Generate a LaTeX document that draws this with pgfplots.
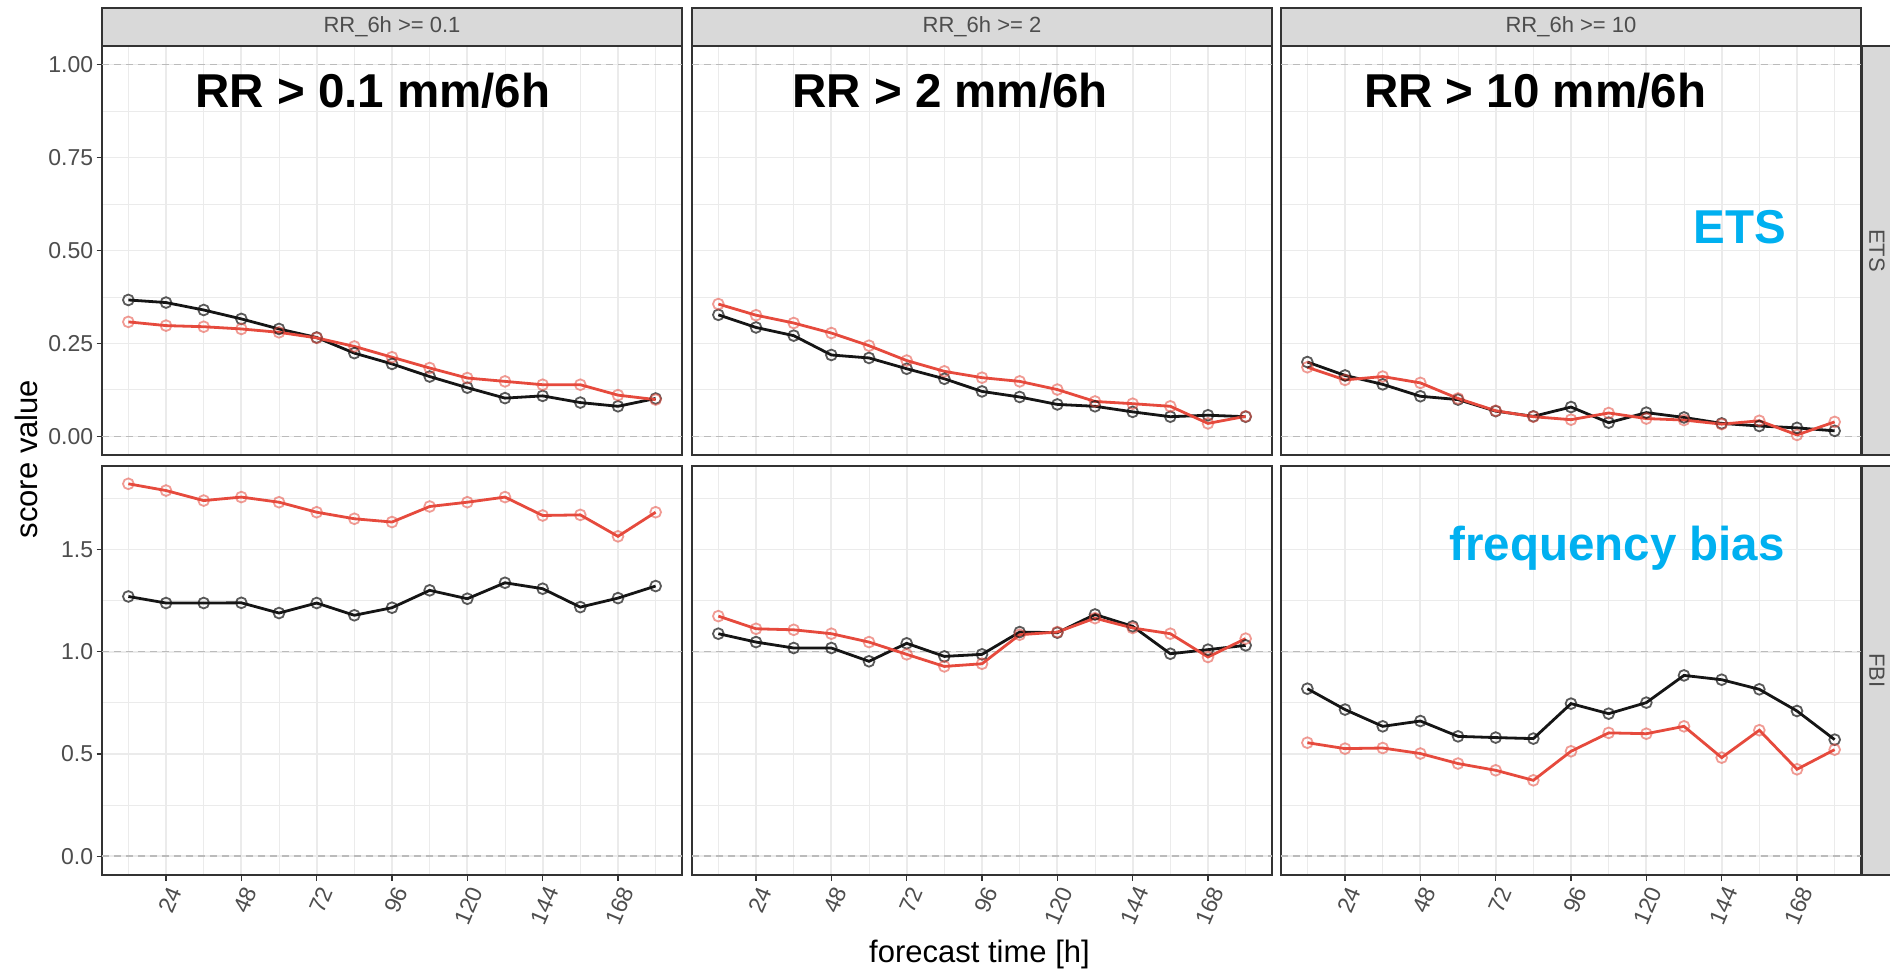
\documentclass[border=0pt]{standalone}
\usepackage{pgfplots}
\usepackage{pgfplotstable}
\pgfplotsset{compat=1.18}
\usepackage{fontspec}
\setmainfont{Liberation Sans}
\definecolor{gridc}{HTML}{EBEBEB}
\definecolor{framec}{HTML}{333333}
\definecolor{ticklab}{HTML}{4D4D4D}
\definecolor{stripfill}{HTML}{D9D9D9}
\definecolor{serk}{HTML}{151515}
\definecolor{serr}{HTML}{E64A3D}
\definecolor{annblue}{HTML}{00B0F0}
\definecolor{hlinec}{HTML}{BBBBBB}

\pgfplotstableread{
t k r
12 0.367 0.308
24 0.360 0.298
36 0.340 0.295
48 0.316 0.289
60 0.289 0.280
72 0.266 0.265
84 0.224 0.242
96 0.195 0.213
108 0.161 0.184
120 0.131 0.157
132 0.103 0.148
144 0.109 0.139
156 0.091 0.139
168 0.081 0.111
180 0.102 0.099
}\Ea
\pgfplotstableread{
t k r
12 0.327 0.356
24 0.293 0.326
36 0.271 0.305
48 0.219 0.278
60 0.211 0.244
72 0.182 0.204
84 0.155 0.175
96 0.121 0.158
108 0.106 0.148
120 0.086 0.126
132 0.081 0.094
144 0.066 0.088
156 0.053 0.081
168 0.057 0.035
180 0.053 0.054
}\Eb
\pgfplotstableread{
t k r
12 0.200 0.186
24 0.164 0.152
36 0.140 0.161
48 0.108 0.144
60 0.099 0.102
72 0.068 0.069
84 0.054 0.053
96 0.079 0.045
108 0.037 0.063
120 0.064 0.048
132 0.051 0.044
144 0.035 0.033
156 0.028 0.042
168 0.023 0.004
180 0.015 0.039
}\Ec
\pgfplotstableread{
t k r
12 1.270 1.821
24 1.238 1.788
36 1.238 1.739
48 1.239 1.756
60 1.189 1.731
72 1.238 1.682
84 1.178 1.650
96 1.215 1.634
108 1.300 1.710
120 1.259 1.731
132 1.337 1.756
144 1.308 1.666
156 1.218 1.669
168 1.262 1.564
180 1.321 1.682
}\Fa
\pgfplotstableread{
t k r
12 1.088 1.174
24 1.047 1.112
36 1.018 1.107
48 1.018 1.088
60 0.953 1.047
72 1.041 0.987
84 0.977 0.928
96 0.987 0.941
108 1.096 1.083
120 1.093 1.096
132 1.182 1.164
144 1.124 1.116
156 0.990 1.088
168 1.010 0.974
180 1.031 1.064
}\Fb
\pgfplotstableread{
t k r
12 0.819 0.555
24 0.717 0.526
36 0.635 0.529
48 0.661 0.502
60 0.586 0.453
72 0.580 0.420
84 0.575 0.371
96 0.746 0.513
108 0.697 0.603
120 0.751 0.599
132 0.884 0.635
144 0.863 0.482
156 0.816 0.616
168 0.710 0.425
180 0.570 0.521
}\Fc

\tikzset{hl/.style={draw=hlinec, line width=0.7pt, dash pattern=on 3.5pt off 2.5pt}}

\pgfplotsset{
  panel/.style={
    scale only axis, width=290pt, height=204.5pt,
    anchor=north west,
    xmin=3.6, xmax=188.4,
    clip=false,
    axis line style={draw=framec, line width=0.9pt},
    xtick={24,48,72,96,120,144,168},
    minor xtick={12,36,60,84,108,132,156,180},
    xmajorgrids, xminorgrids, ymajorgrids, yminorgrids,
    major grid style={draw=gridc, line width=0.9pt},
    minor grid style={draw=gridc, line width=0.45pt},
    tick style={draw=framec, line width=0.6pt},
    tick align=outside,
    major tick length=2.75pt, minor tick length=0pt,
    tick label style={font=\fontsize{11.5}{13}\selectfont, text=ticklab},
    /pgf/number format/assume math mode=true,
    xticklabel style={rotate=67, anchor=north east, inner sep=1.5pt},
    yticklabel style={inner sep=1.5pt},
    xtick pos=left, ytick pos=left,
  },
  etsrow/.style={ymin=-0.05, ymax=1.05, ytick={0,0.25,0.5,0.75,1},
    minor ytick={0.125,0.375,0.625,0.875},
    yticklabel style={/pgf/number format/.cd, fixed, fixed zerofill, precision=2}},
  fbirow/.style={ymin=-0.092, ymax=1.908, ytick={0,0.5,1,1.5},
    minor ytick={0.25,0.75,1.25,1.75},
    yticklabel style={/pgf/number format/.cd, fixed, fixed zerofill, precision=1}},
  noxt/.style={xticklabels={}, xtick style={draw=none}},
  noyt/.style={yticklabels={}, ytick style={draw=none}},
  serk/.style={draw=serk, line width=1.4pt, mark=o, mark size=2.7pt,
    mark options={solid, line width=0.9pt, draw=serk, draw opacity=0.7}},
  serr/.style={draw=serr, line width=1.4pt, mark=o, mark size=2.7pt,
    mark options={solid, line width=0.9pt, draw=serr, draw opacity=0.55}},
}

\newcommand{\bigtxt}{\fontsize{23.75}{28}\selectfont\bfseries}

\begin{document}
\begin{tikzpicture}
\useasboundingbox (0,0) rectangle (945pt,-484.5pt);
\fill[white] (0,0) rectangle (945pt,-484.5pt);

% ---- top row (ETS)
\begin{axis}[panel, etsrow, noxt, at={(51pt,-23pt)}]
\draw[hl] (axis cs:3.6,0) -- (axis cs:188.4,0);
\draw[hl] (axis cs:3.6,1) -- (axis cs:188.4,1);
\addplot[serk] table[x=t,y=k]{\Ea};
\addplot[serr] table[x=t,y=r]{\Ea};
\end{axis}
\begin{axis}[panel, etsrow, noxt, noyt, at={(346pt,-23pt)}]
\draw[hl] (axis cs:3.6,0) -- (axis cs:188.4,0);
\draw[hl] (axis cs:3.6,1) -- (axis cs:188.4,1);
\addplot[serk] table[x=t,y=k]{\Eb};
\addplot[serr] table[x=t,y=r]{\Eb};
\end{axis}
\begin{axis}[panel, etsrow, noxt, noyt, at={(640.5pt,-23pt)}]
\draw[hl] (axis cs:3.6,0) -- (axis cs:188.4,0);
\draw[hl] (axis cs:3.6,1) -- (axis cs:188.4,1);
\addplot[serk] table[x=t,y=k]{\Ec};
\addplot[serr] table[x=t,y=r]{\Ec};
\end{axis}

% ---- bottom row (FBI)
\begin{axis}[panel, fbirow, at={(51pt,-233pt)}]
\draw[hl] (axis cs:3.6,0) -- (axis cs:188.4,0);
\draw[hl] (axis cs:3.6,1) -- (axis cs:188.4,1);
\addplot[serk] table[x=t,y=k]{\Fa};
\addplot[serr] table[x=t,y=r]{\Fa};
\end{axis}
\begin{axis}[panel, fbirow, noyt, at={(346pt,-233pt)}]
\draw[hl] (axis cs:3.6,0) -- (axis cs:188.4,0);
\draw[hl] (axis cs:3.6,1) -- (axis cs:188.4,1);
\addplot[serk] table[x=t,y=k]{\Fb};
\addplot[serr] table[x=t,y=r]{\Fb};
\end{axis}
\begin{axis}[panel, fbirow, noyt, at={(640.5pt,-233pt)}]
\draw[hl] (axis cs:3.6,0) -- (axis cs:188.4,0);
\draw[hl] (axis cs:3.6,1) -- (axis cs:188.4,1);
\addplot[serk] table[x=t,y=k]{\Fc};
\addplot[serr] table[x=t,y=r]{\Fc};
\end{axis}

% ---- strips
\foreach \x/\lab in {51pt/{RR\_6h >= 0.1}, 346pt/{RR\_6h >= 2}, 640.5pt/{RR\_6h >= 10}}{
  \draw[fill=stripfill, draw=framec, line width=0.9pt] (\x,-4pt) rectangle ++(290pt,-19pt);
  \node[font=\fontsize{11}{13}\selectfont, text=ticklab] at ([xshift=145pt]\x,-13.4pt) {\lab};
}
\draw[fill=stripfill, draw=framec, line width=0.9pt] (931pt,-23pt) rectangle (950pt,-227.5pt);
\draw[fill=stripfill, draw=framec, line width=0.9pt] (931pt,-233pt) rectangle (950pt,-437.5pt);
\node[font=\fontsize{11}{13}\selectfont, text=ticklab, rotate=-90] at (938.5pt,-125.25pt) {ETS};
\node[font=\fontsize{11}{13}\selectfont, text=ticklab, rotate=-90] at (938.5pt,-335.25pt) {FBI};

% ---- axis titles
\node[font=\fontsize{15.5}{18}\selectfont, rotate=90] at (13pt,-229.5pt) {score value};
\node[font=\fontsize{15.5}{18}\selectfont, anchor=base] at (489.75pt,-481pt) {forecast time [h]};

% ---- annotations
\node[font=\bigtxt, anchor=base west, inner sep=0pt] at (97.5pt,-53.5pt) {RR > 0.1 mm/6h};
\node[font=\bigtxt, anchor=base west, inner sep=0pt] at (396pt,-53.5pt) {RR > 2 mm/6h};
\node[font=\bigtxt, anchor=base west, inner sep=0pt] at (681.9pt,-53.5pt) {RR > 10 mm/6h};
\node[font=\bigtxt, text=annblue, anchor=base west, inner sep=0pt] at (846.5pt,-121.5pt) {ETS};
\node[font=\bigtxt, text=annblue, anchor=base west, inner sep=0pt] at (724.5pt,-280pt) {frequency bias};
\end{tikzpicture}
\end{document}
